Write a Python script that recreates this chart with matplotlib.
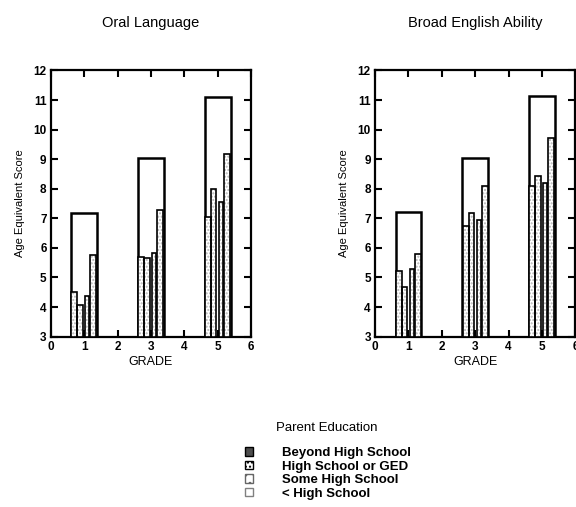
import matplotlib
matplotlib.use("Agg")
import matplotlib.pyplot as plt
from matplotlib.patches import Patch
import numpy as np

plt.rcParams['font.family'] = ['Liberation Sans', 'DejaVu Sans']

grades = [1, 3, 5]
categories = ["< High School", "Some High School", "High School or GED", "Beyond High School"]

# grade-level norm (outer bar)
oral_norm = [7.18, 9.05, 11.1]
broad_norm = [7.2, 9.03, 11.12]

# Oral Language, per category per grade
oral_lt_hs = [4.5, 5.68, 7.05]
oral_some_hs = [4.08, 5.65, 8.0]
oral_hs_ged = [4.36, 5.82, 7.55]
oral_beyond = [5.75, 7.27, 9.16]

# Broad English Ability
broad_lt_hs = [5.23, 6.74, 8.1]
broad_some_hs = [4.69, 7.18, 8.42]
broad_hs_ged = [5.29, 6.93, 8.21]
broad_beyond = [5.81, 8.09, 9.72]

panels = [
    ("Oral Language", oral_norm, [oral_lt_hs, oral_some_hs, oral_hs_ged, oral_beyond]),
    ("Broad English Ability", broad_norm, [broad_lt_hs, broad_some_hs, broad_hs_ged, broad_beyond]),
]

offsets = [-0.29, -0.12, 0.10, 0.28]
widths = [0.18, 0.16, 0.12, 0.18]

fig = plt.figure(figsize=(5.76, 5.07), dpi=100)
rects = [[0.088, 0.336, 0.348, 0.525], [0.651, 0.336, 0.348, 0.525]]

for rect, (title, norm, series) in zip(rects, panels):
    ax = fig.add_axes(rect)
    g = np.array(grades, dtype=float)
    ax.bar(g, np.array(norm) - 3, bottom=3, width=0.77, fill=False,
           edgecolor='black', linewidth=1.8, zorder=2)
    for off, w, vals in zip(offsets, widths, series):
        v = np.array(vals)
        ax.bar(g + off, v - 3, bottom=3, width=w, facecolor='white',
               edgecolor='0.7', hatch='.....', linewidth=0, zorder=3)
        ax.bar(g + off, v - 3, bottom=3, width=w, fill=False,
               edgecolor='black', linewidth=1.2, zorder=4)
    ax.set_xlim(0, 6)
    ax.set_ylim(3, 12)
    ax.set_xticks(range(0, 7))
    ax.set_yticks(range(3, 13))
    ax.tick_params(direction='in', top=True, right=True, length=5, width=1.5,
                   labelsize=8.5, pad=3)
    for lab in ax.get_xticklabels() + ax.get_yticklabels():
        lab.set_fontweight('bold')
    for s in ax.spines.values():
        s.set_linewidth(1.6)
    ax.set_xlabel("GRADE", fontsize=9, labelpad=2)
    ax.set_ylabel("Age Equivalent Score", fontsize=8, labelpad=6)
    ax.set_title(title, fontsize=10.5, pad=31)

handles = [
    Patch(facecolor='0.3', edgecolor='black', label=categories[3]),
    Patch(facecolor='white', edgecolor='black', hatch='....', label=categories[2]),
    Patch(facecolor='white', edgecolor='0.4', hatch='..', label=categories[1]),
    Patch(facecolor='white', edgecolor='0.5', label=categories[0]),
]
fig.text(0.568, 1 - 428 / 507, "Parent Education", ha='center', va='center', fontsize=9.5)
leg = fig.legend(handles=handles, loc='upper left', bbox_to_anchor=(0.425, 1 - 447 / 507),
                 frameon=False,
                 prop={'size': 9.5, 'weight': 'bold'},
                 handlelength=0.6, handleheight=0.6, handletextpad=2.2,
                 labelspacing=0.12, borderpad=0.0, borderaxespad=0.0)

fig.savefig("out.png", dpi=100)
